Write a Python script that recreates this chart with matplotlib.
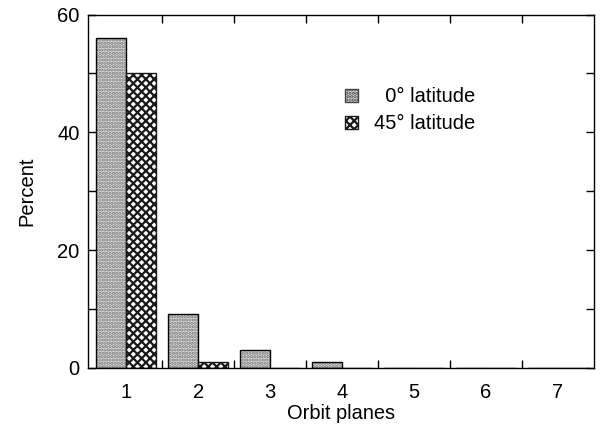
import numpy as np
import matplotlib.pyplot as plt
from matplotlib.patches import Patch

plt.rcParams['font.family'] = ['Liberation Sans', 'DejaVu Sans']
plt.rcParams['hatch.linewidth'] = 1.6

planes = [1, 2, 3, 4, 5, 6, 7]
lat0 = [56, 9.2, 3, 1, 0, 0, 0]
lat45 = [50, 1, 0, 0, 0, 0, 0]

x = np.array(planes)
w = 0.42

fig = plt.figure(figsize=(6.01, 4.29), dpi=100)
ax = fig.add_axes([0.1464, 0.1422, 0.842, 0.824])

# 0 deg: stippled grey, hatch drawn first then black outline
ax.bar(x - w / 2, lat0, w, facecolor='#dcdcdc', edgecolor='#777777',
       hatch='.....', linewidth=0)
ax.bar(x - w / 2, lat0, w, facecolor='none', edgecolor='black', linewidth=1.0)
# 45 deg: dark crosshatch
ax.bar(x + w / 2, lat45, w, facecolor='white', edgecolor='#1a1a1a',
       hatch='xxxx', linewidth=1.0)

ax.set_xlim(0.47, 7.5)
ax.set_ylim(0, 60)

ax.set_xticks(planes)
ax.set_xticks(np.arange(1.5, 7, 1), minor=True)
ax.set_yticks([0, 20, 40, 60])
ax.set_yticks([10, 30, 50], minor=True)

ax.tick_params(axis='x', which='major', length=0, pad=11, labelsize=14.5)
ax.tick_params(axis='x', which='minor', direction='in', length=5.5,
               top=True, width=1)
ax.tick_params(axis='y', which='both', direction='in', length=5.5,
               right=True, width=1, labelsize=14.5, pad=6)

for s in ax.spines.values():
    s.set_linewidth(1.0)

ax.set_xlabel('Orbit planes', fontsize=14.4, labelpad=1)
ax.set_ylabel('Percent', fontsize=14.5, labelpad=15)

handles = [Patch(facecolor='#dcdcdc', edgecolor='#444444', hatch='.....', linewidth=1),
           Patch(facecolor='white', edgecolor='#1a1a1a', hatch='xxxx', linewidth=1)]
ax.legend(handles, ['  0° latitude', '45° latitude'], frameon=False,
          loc='upper left', bbox_to_anchor=(0.472, 0.845), fontsize=14.5,
          handlelength=0.65, handleheight=0.65, handletextpad=0.8,
          labelspacing=0.4)

fig.savefig('out.png', dpi=100)
